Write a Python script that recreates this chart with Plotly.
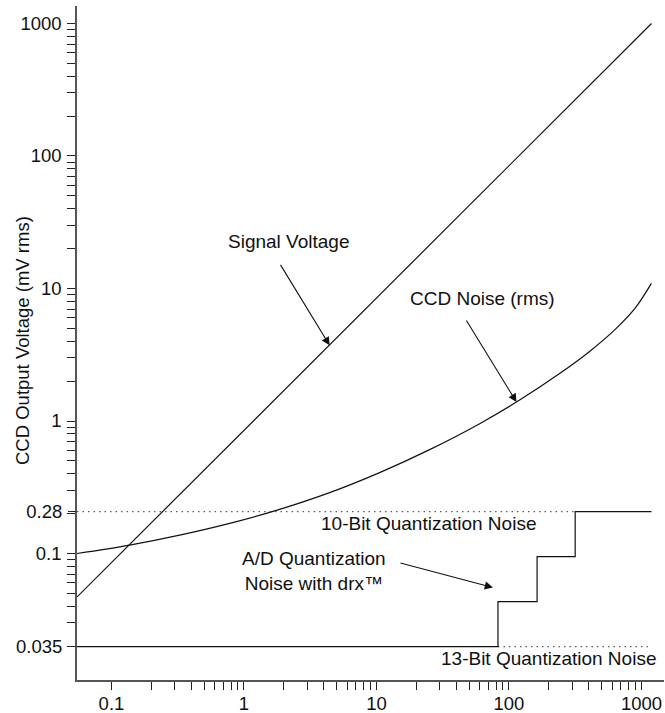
import math
import plotly.graph_objects as go

# ---------------- data ----------------
signal_x = [0.055, 1190]
signal_y = [0.047, 1000]

noise_x = [0.055, 0.137, 0.327, 0.78, 1.86, 4.43, 10.57, 25.2, 60.1, 120.4, 241, 406, 628, 889, 1188]
noise_y = [0.100, 0.1157, 0.1376, 0.1688, 0.2153, 0.288, 0.408, 0.608, 0.955, 1.44, 2.28, 3.35, 4.87,
           7.04, 10.94]

drx_x = [0.055, 82.6, 163, 316, 1190]
drx_y = [0.035, 0.07, 0.14, 0.28, 0.28]

ten_bit_level = 0.28
ten_bit_x = [0.055, 316]
thirteen_bit_level = 0.035
thirteen_bit_x = [82.6, 1190]

x_tick_vals = [0.1, 1, 10, 100, 1000]
x_tick_text = ["0.1", "1", "10", "100", "1000"]
y_tick_vals = [0.1, 1, 10, 100, 1000]
y_tick_text = ["0.1", "1", "10", "100", "1000"]
q_tick_vals = [0.035, 0.28]
q_tick_text = ["0.035", "0.28"]

FONT = "Liberation Sans, Arial, sans-serif"
FS = 18.5
BLACK = "#111111"

minor_x = [m * 10 ** d for d in range(-1, 4) for m in range(2, 10)]
minor_y = [m * 10 ** d for d in range(-2, 4) for m in range(2, 10)]

fig = go.Figure()

fig.add_trace(go.Scatter(x=signal_x, y=signal_y, mode="lines",
                         line=dict(color=BLACK, width=1.2), showlegend=False))
fig.add_trace(go.Scatter(x=noise_x, y=noise_y, mode="lines",
                         line=dict(color=BLACK, width=1.2, shape="spline", smoothing=1.0),
                         showlegend=False))
fig.add_trace(go.Scatter(x=drx_x, y=drx_y, mode="lines", yaxis="y2",
                         line=dict(color=BLACK, width=1.2, shape="hv"), showlegend=False))
fig.add_trace(go.Scatter(x=ten_bit_x, y=[ten_bit_level] * len(ten_bit_x), mode="lines", yaxis="y2",
                         line=dict(color="#333333", width=1, dash="1.5px,4px"), showlegend=False))
fig.add_trace(go.Scatter(x=thirteen_bit_x, y=[thirteen_bit_level] * len(thirteen_bit_x), mode="lines",
                         yaxis="y2",
                         line=dict(color="#333333", width=1, dash="1.5px,4px"), showlegend=False))

axis_common = dict(
    type="log", showgrid=False, zeroline=False, automargin=False,
    ticks="outside", ticklen=8, tickwidth=1, tickcolor="#222222",
    tickfont=dict(family=FONT, size=FS, color=BLACK),
)

fig.update_layout(
    width=665, height=713,
    margin=dict(l=77, r=1, t=6, b=33),
    paper_bgcolor="white", plot_bgcolor="white",
    font=dict(family=FONT, size=FS, color=BLACK),
    xaxis=dict(
        **axis_common,
        range=[-1.26, 3.17],
        tickvals=x_tick_vals, ticktext=x_tick_text,
        showline=True, linecolor="#555555", linewidth=1.5,
        ticklabelstandoff=-2,
        minor=dict(tickvals=minor_x, ticks="outside", ticklen=8, tickwidth=1,
                   tickcolor="#222222", showgrid=False),
    ),
    yaxis=dict(
        **axis_common,
        range=[-1.9547, 3.132],
        tickvals=y_tick_vals, ticktext=y_tick_text,
        showline=True, linecolor="#555555", linewidth=1.5,
        ticklabelstandoff=2,
        minor=dict(tickvals=minor_y, ticks="outside", ticklen=8, tickwidth=1,
                   tickcolor="#222222", showgrid=False),
    ),
    yaxis2=dict(
        **axis_common,
        overlaying="y", side="left", anchor="x",
        range=[-1.67869, 2.82997],
        tickvals=q_tick_vals, ticktext=q_tick_text,
        showline=False,
        ticklabelstandoff=2,
    ),
)

ann_font = dict(family=FONT, size=19, color=BLACK)

def paper_xy(px, py):
    return (px - 77) / 587, (680 - py) / 674

# y-axis title (placed as rotated text so it sits where the reference has it)
tx, ty = paper_xy(22, 341)
fig.add_annotation(text="CCD Output Voltage (mV rms)", x=tx, y=ty, xref="paper", yref="paper",
                   xanchor="center", yanchor="middle", textangle=-90, showarrow=False,
                   font=dict(family=FONT, size=FS, color=BLACK))

texts = [
    ("Signal Voltage", 289, 241.7, "center"),
    ("CCD Noise (rms)", 482.5, 298.3, "center"),
    ("10-Bit Quantization Noise", 428, 523.3, "center"),
    ("13-Bit Quantization Noise", 658.3, 658.3, "right"),
    ("A/D Quantization<br>Noise with drx™", 313.7, 570.5, "center"),
]
for t, px, py, anc in texts:
    xp, yp = paper_xy(px, py)
    fig.add_annotation(text=t, x=xp, y=yp, xref="paper", yref="paper",
                       xanchor=anc, yanchor="middle", showarrow=False, font=ann_font,
                       align="center")

# arrows (tip on the data, tail offset in px)
arrow_style = dict(showarrow=True, arrowhead=2, arrowsize=1.5, arrowwidth=1.1,
                   arrowcolor=BLACK, text="")
fig.add_annotation(x=math.log10(4.43), y=math.log10(4.43 * signal_y[1] / signal_x[1]),
                   xref="x", yref="y", ax=-50, ay=-82, **arrow_style)
fig.add_annotation(x=math.log10(114), y=math.log10(1.39), xref="x", yref="y",
                   ax=-51, ay=-83, **arrow_style)
fig.add_annotation(x=math.log10(75.7), y=math.log10(0.087), xref="x", yref="y2",
                   ax=-94, ay=-25, **arrow_style)

fig.write_html("out.html", config={"displayModeBar": False},
               post_script="document.body.style.margin='0';")
